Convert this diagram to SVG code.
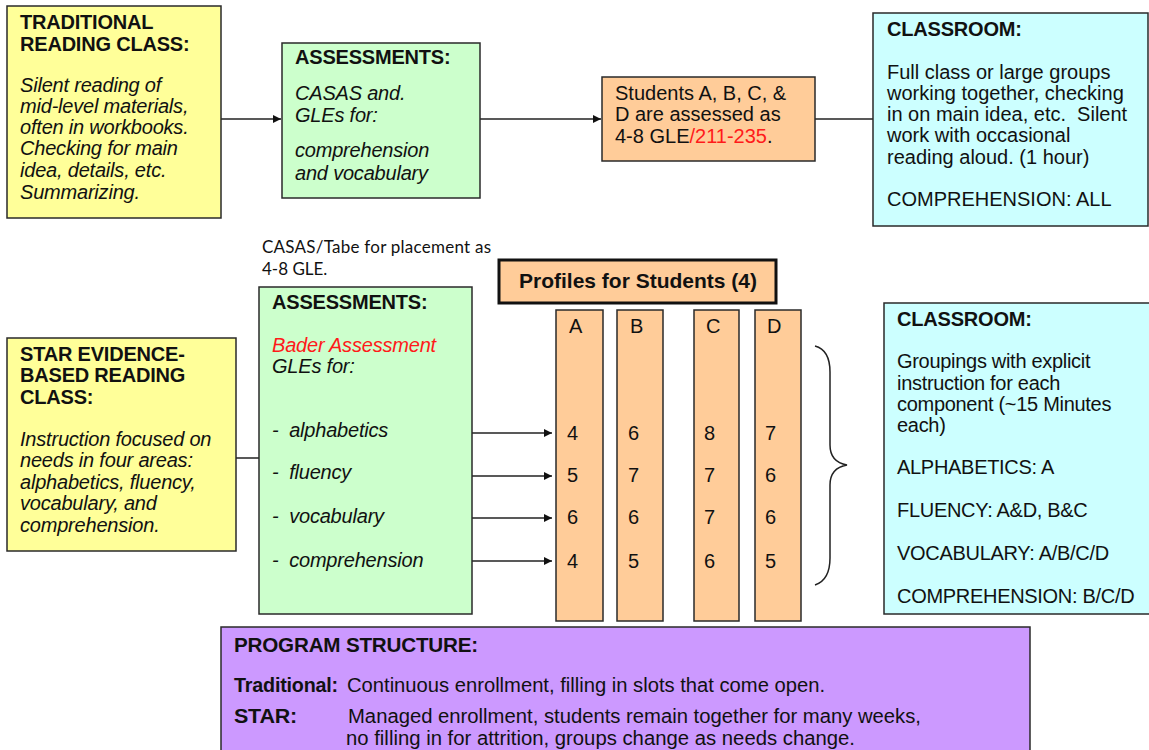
<svg xmlns="http://www.w3.org/2000/svg" width="1149" height="750" viewBox="0 0 1149 750">
<defs>
<style>
.box{stroke:#2a2a2a;stroke-width:1.5}
.t{font-family:"Liberation Sans",Arial,sans-serif;font-size:20px;fill:#111}
.b{font-weight:bold;letter-spacing:-0.2px}
.i{font-style:italic;letter-spacing:-0.2px}
.n{letter-spacing:-0.3px}
.g{font-family:Lato,"Noto Sans",sans-serif;font-size:17px;fill:#111}
.red{fill:#ff1a1a}
.ln{stroke:#222;stroke-width:1.5;fill:none}
</style>
<marker id="ah" viewBox="0 0 10 10" refX="10" refY="5" markerWidth="8" markerHeight="8" markerUnits="userSpaceOnUse" orient="auto">
<path d="M0,0 L10,5 L0,10 z" fill="#111"/>
</marker>
</defs>
<rect width="1149" height="750" fill="#fff"/>

<g id="connectors">
<line class="ln" x1="221" y1="119" x2="281" y2="119" marker-end="url(#ah)"/>
<line class="ln" x1="480" y1="119" x2="601" y2="119" marker-end="url(#ah)"/>
<line class="ln" x1="815" y1="119" x2="873" y2="119"/>
<line class="ln" x1="236" y1="458" x2="259" y2="458"/>
<line class="ln" x1="472" y1="433" x2="552" y2="433" marker-end="url(#ah)"/>
<line class="ln" x1="472" y1="476" x2="552" y2="476" marker-end="url(#ah)"/>
<line class="ln" x1="472" y1="518" x2="552" y2="518" marker-end="url(#ah)"/>
<line class="ln" x1="472" y1="561" x2="552" y2="561" marker-end="url(#ah)"/>
<path class="ln" d="M815,346 Q830,350 830,372 L830,445 Q830,462 847,465 Q830,468 830,485 L830,558 Q830,580 815,585"/>
</g>

<g id="traditional">
<rect class="box" x="7" y="6" width="214" height="212" fill="#ffff99"/>
<text class="t b" x="20" y="29">TRADITIONAL</text>
<text class="t b" x="20" y="51">READING CLASS:</text>
<text class="t i" x="20" y="92">Silent reading of</text>
<text class="t i" x="20" y="113">mid-level materials,</text>
<text class="t i" x="20" y="134">often in workbooks.</text>
<text class="t i" x="20" y="155">Checking for main</text>
<text class="t i" x="20" y="177">idea, details, etc.</text>
<text class="t i" x="20" y="199">Summarizing.</text>
</g>

<g id="assess1">
<rect class="box" x="282" y="43" width="198" height="155" fill="#ccffcc"/>
<text class="t b" x="295" y="64">ASSESSMENTS:</text>
<text class="t i" x="295" y="100">CASAS and.</text>
<text class="t i" x="295" y="122">GLEs for:</text>
<text class="t i" x="295" y="157">comprehension</text>
<text class="t i" x="295" y="180">and vocabulary</text>
</g>

<g id="students">
<rect class="box" x="602" y="77" width="213" height="84" fill="#ffcc99"/>
<text class="t" x="615" y="100">Students A, B, C, &amp;</text>
<text class="t" x="615" y="121">D are assessed as</text>
<text class="t" x="615" y="143">4-8 GLE<tspan class="red">/211-235</tspan>.</text>
</g>

<g id="classroom1">
<rect class="box" x="873" y="13" width="275" height="213" fill="#ccffff"/>
<text class="t b" x="887" y="36">CLASSROOM:</text>
<text class="t" x="887" y="79">Full class or large groups</text>
<text class="t" x="887" y="100">working together, checking</text>
<text class="t" x="887" y="121" xml:space="preserve">in on main idea, etc.  Silent</text>
<text class="t" x="887" y="142">work with occasional</text>
<text class="t" x="887" y="164">reading aloud. (1 hour)</text>
<text class="t" x="887" y="206">COMPREHENSION: ALL</text>
</g>

<g id="placement">
<text class="g" x="262" y="253" textLength="229">CASAS/Tabe for placement as</text>
<text class="g" x="262" y="275">4-8 GLE.</text>
</g>

<g id="star">
<rect class="box" x="7" y="338" width="229" height="213" fill="#ffff99"/>
<text class="t b" x="20" y="361">STAR EVIDENCE-</text>
<text class="t b" x="20" y="382">BASED READING</text>
<text class="t b" x="20" y="404">CLASS:</text>
<text class="t i" x="20" y="446">Instruction focused on</text>
<text class="t i" x="20" y="467">needs in four areas:</text>
<text class="t i" x="20" y="489">alphabetics, fluency,</text>
<text class="t i" x="20" y="510">vocabulary, and</text>
<text class="t i" x="20" y="532">comprehension.</text>
</g>

<g id="assess2">
<rect class="box" x="259" y="287" width="213" height="327" fill="#ccffcc"/>
<text class="t b" x="272" y="309">ASSESSMENTS:</text>
<text class="t i red" x="272" y="352">Bader Assessment</text>
<text class="t i" x="272" y="373">GLEs for:</text>
<text class="t i" x="272" y="437" xml:space="preserve">-  alphabetics</text>
<text class="t i" x="272" y="479" xml:space="preserve">-  fluency</text>
<text class="t i" x="272" y="523" xml:space="preserve">-  vocabulary</text>
<text class="t i" x="272" y="567" xml:space="preserve">-  comprehension</text>
</g>

<g id="profiles">
<rect x="499" y="260" width="277" height="43" fill="#ffcc99" stroke="#111" stroke-width="3"/>
<text class="t b" x="638" y="288" text-anchor="middle" style="font-size:21px;letter-spacing:0">Profiles for Students (4)</text>
</g>

<g id="colA">
<rect class="box" x="556" y="310" width="47" height="311" fill="#ffcc99"/>
<text class="t" x="569" y="333">A</text>
<text class="t" x="567" y="440">4</text><text class="t" x="567" y="482">5</text><text class="t" x="567" y="524">6</text><text class="t" x="567" y="568">4</text>
</g>
<g id="colB">
<rect class="box" x="617" y="310" width="46" height="311" fill="#ffcc99"/>
<text class="t" x="630" y="333">B</text>
<text class="t" x="628" y="440">6</text><text class="t" x="628" y="482">7</text><text class="t" x="628" y="524">6</text><text class="t" x="628" y="568">5</text>
</g>
<g id="colC">
<rect class="box" x="694" y="310" width="45" height="311" fill="#ffcc99"/>
<text class="t" x="706" y="333">C</text>
<text class="t" x="704" y="440">8</text><text class="t" x="704" y="482">7</text><text class="t" x="704" y="524">7</text><text class="t" x="704" y="568">6</text>
</g>
<g id="colD">
<rect class="box" x="755" y="310" width="46" height="311" fill="#ffcc99"/>
<text class="t" x="767" y="333">D</text>
<text class="t" x="765" y="440">7</text><text class="t" x="765" y="482">6</text><text class="t" x="765" y="524">6</text><text class="t" x="765" y="568">5</text>
</g>

<g id="classroom2">
<rect class="box" x="884" y="303" width="270" height="311" fill="#ccffff"/>
<text class="t b" x="897" y="326">CLASSROOM:</text>
<text class="t n" x="897" y="368">Groupings with explicit</text>
<text class="t n" x="897" y="390">instruction for each</text>
<text class="t n" x="897" y="411">component (~15 Minutes</text>
<text class="t n" x="897" y="432">each)</text>
<text class="t n" x="897" y="474">ALPHABETICS: A</text>
<text class="t n" x="897" y="517">FLUENCY: A&amp;D, B&amp;C</text>
<text class="t n" x="897" y="560">VOCABULARY: A/B/C/D</text>
<text class="t n" x="897" y="603">COMPREHENSION: B/C/D</text>
</g>

<g id="program">
<rect class="box" x="221" y="627" width="809" height="130" fill="#cc99ff"/>
<text class="t b" x="234" y="652" textLength="244" lengthAdjust="spacingAndGlyphs">PROGRAM STRUCTURE:</text>
<text class="t b" x="234" y="692" textLength="104" lengthAdjust="spacingAndGlyphs">Traditional:</text>
<text class="t" x="347" y="692" textLength="478" lengthAdjust="spacingAndGlyphs">Continuous enrollment, filling in slots that come open.</text>
<text class="t b" x="234" y="723" textLength="63" lengthAdjust="spacingAndGlyphs">STAR:</text>
<text class="t" x="348" y="723" textLength="573" lengthAdjust="spacingAndGlyphs">Managed enrollment, students remain together for many weeks,</text>
<text class="t" x="346" y="745" textLength="509" lengthAdjust="spacingAndGlyphs">no filling in for attrition, groups change as needs change.</text>
</g>
</svg>
